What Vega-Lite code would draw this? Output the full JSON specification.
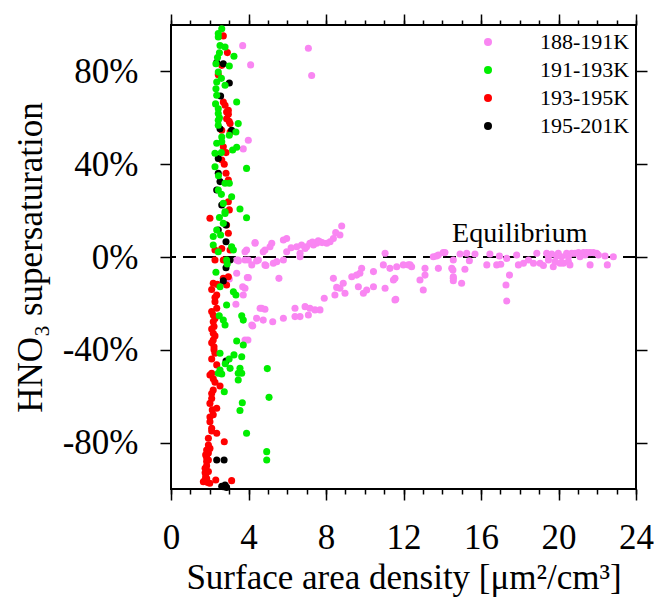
{
"$schema": "https://vega.github.io/schema/vega-lite/v6.json",
"width": 465, "height": 464,
"autosize": {"type": "none"},
"padding": {"left": 171, "top": 25, "right": 18, "bottom": 112},
"background": "white",
"config": {
 "view": {"stroke": "black", "strokeWidth": 2},
 "font": "Liberation Serif",
 "axis": {"grid": false, "domain": false, "tickColor": "black", "tickWidth": 1.5, "labelColor": "black", "titleColor": "black", "labelFont": "Liberation Serif", "titleFont": "Liberation Serif", "titleFontWeight": "normal", "labelFontSize": 35, "titleFontSize": 35, "labelFlush": false, "labelOverlap": false}
},
"datasets": {
 "pts": [
{"sad":3.7,"sup":91.1,"T":"188-191K"},{"sad":7.09,"sup":90.0,"T":"188-191K"},{"sad":7.26,"sup":78.2,"T":"188-191K"},{"sad":4.11,"sup":82.8,"T":"188-191K"},{"sad":3.99,"sup":50.3,"T":"188-191K"},{"sad":3.73,"sup":46.6,"T":"188-191K"},{"sad":4.34,"sup":6.2,"T":"188-191K"},{"sad":3.9,"sup":3.0,"T":"188-191K"},
{"sad":8.81,"sup":13.4,"T":"188-191K"},{"sad":8.72,"sup":9.5,"T":"188-191K"},{"sad":8.38,"sup":8.0,"T":"188-191K"},{"sad":8.21,"sup":6.6,"T":"188-191K"},{"sad":8.04,"sup":5.9,"T":"188-191K"},{"sad":7.69,"sup":6.6,"T":"188-191K"},{"sad":7.52,"sup":5.9,"T":"188-191K"},{"sad":7.35,"sup":5.2,"T":"188-191K"},{"sad":7.17,"sup":5.9,"T":"188-191K"},{"sad":7.0,"sup":4.4,"T":"188-191K"},{"sad":6.92,"sup":3.7,"T":"188-191K"},{"sad":6.74,"sup":5.2,"T":"188-191K"},{"sad":6.49,"sup":4.4,"T":"188-191K"},{"sad":6.66,"sup":1.6,"T":"188-191K"},{"sad":5.97,"sup":8.0,"T":"188-191K"},{"sad":5.8,"sup":7.3,"T":"188-191K"},{"sad":5.2,"sup":5.9,"T":"188-191K"},{"sad":5.11,"sup":4.4,"T":"188-191K"},{"sad":4.85,"sup":3.0,"T":"188-191K"},{"sad":4.76,"sup":2.3,"T":"188-191K"},{"sad":4.34,"sup":5.9,"T":"188-191K"},{"sad":3.82,"sup":2.3,"T":"188-191K"},{"sad":5.97,"sup":2.3,"T":"188-191K"},{"sad":7.8,"sup":6.2,"T":"188-191K"},{"sad":7.6,"sup":7.0,"T":"188-191K"},{"sad":8.5,"sup":10.5,"T":"188-191K"},{"sad":7.3,"sup":6.5,"T":"188-191K"},{"sad":6.2,"sup":4.0,"T":"188-191K"},
{"sad":3.39,"sup":-1.3,"T":"188-191K"},{"sad":3.82,"sup":-1.3,"T":"188-191K"},{"sad":4.17,"sup":-3.4,"T":"188-191K"},{"sad":4.51,"sup":-1.3,"T":"188-191K"},{"sad":4.85,"sup":-3.4,"T":"188-191K"},{"sad":5.28,"sup":-2.7,"T":"188-191K"},{"sad":5.46,"sup":-2.0,"T":"188-191K"},{"sad":5.8,"sup":-1.3,"T":"188-191K"},{"sad":6.66,"sup":0.1,"T":"188-191K"},{"sad":3.48,"sup":-1.7,"T":"188-191K"},{"sad":3.99,"sup":-1.3,"T":"188-191K"},{"sad":4.42,"sup":-1.7,"T":"188-191K"},{"sad":3.01,"sup":-9.5,"T":"188-191K"},{"sad":3.39,"sup":-7.0,"T":"188-191K"},{"sad":3.82,"sup":-13.5,"T":"188-191K"},{"sad":3.99,"sup":-8.9,"T":"188-191K"},{"sad":3.35,"sup":-20.4,"T":"188-191K"},{"sad":4.17,"sup":-29.3,"T":"188-191K"},{"sad":4.6,"sup":-22.1,"T":"188-191K"},
{"sad":11.05,"sup":1.6,"T":"188-191K"},{"sad":10.96,"sup":-3.4,"T":"188-191K"},{"sad":11.3,"sup":-4.9,"T":"188-191K"},{"sad":11.65,"sup":-4.2,"T":"188-191K"},{"sad":11.99,"sup":-3.4,"T":"188-191K"},{"sad":12.34,"sup":-3.4,"T":"188-191K"},{"sad":12.42,"sup":-4.2,"T":"188-191K"},{"sad":13.11,"sup":-4.9,"T":"188-191K"},{"sad":13.11,"sup":-7.8,"T":"188-191K"},{"sad":9.84,"sup":-4.9,"T":"188-191K"},{"sad":10.45,"sup":-6.3,"T":"188-191K"},{"sad":9.75,"sup":-7.0,"T":"188-191K"},{"sad":9.58,"sup":-7.8,"T":"188-191K"},{"sad":9.33,"sup":-8.5,"T":"188-191K"},{"sad":8.38,"sup":-9.2,"T":"188-191K"},{"sad":8.89,"sup":-11.3,"T":"188-191K"},{"sad":8.72,"sup":-13.5,"T":"188-191K"},{"sad":8.55,"sup":-13.1,"T":"188-191K"},{"sad":8.98,"sup":-15.6,"T":"188-191K"},{"sad":8.46,"sup":-16.4,"T":"188-191K"},{"sad":9.67,"sup":-12.8,"T":"188-191K"},{"sad":10.1,"sup":-14.2,"T":"188-191K"},{"sad":9.93,"sup":-15.6,"T":"188-191K"},{"sad":10.45,"sup":-12.8,"T":"188-191K"},{"sad":11.05,"sup":-13.5,"T":"188-191K"},{"sad":11.56,"sup":-9.2,"T":"188-191K"},{"sad":11.48,"sup":-9.9,"T":"188-191K"},{"sad":11.56,"sup":-18.5,"T":"188-191K"},{"sad":12.85,"sup":-9.9,"T":"188-191K"},{"sad":13.02,"sup":-14.2,"T":"188-191K"},{"sad":7.91,"sup":-17.8,"T":"188-191K"},{"sad":7.69,"sup":-22.8,"T":"188-191K"},{"sad":7.43,"sup":-22.8,"T":"188-191K"},{"sad":7.17,"sup":-22.1,"T":"188-191K"},{"sad":6.92,"sup":-21.4,"T":"188-191K"},{"sad":7.09,"sup":-25.0,"T":"188-191K"},{"sad":6.66,"sup":-25.7,"T":"188-191K"},{"sad":6.4,"sup":-25.7,"T":"188-191K"},{"sad":6.4,"sup":-22.1,"T":"188-191K"},{"sad":5.8,"sup":-26.4,"T":"188-191K"},{"sad":5.25,"sup":-27.9,"T":"188-191K"},{"sad":4.76,"sup":-27.2,"T":"188-191K"},{"sad":4.85,"sup":-22.5,"T":"188-191K"},{"sad":4.68,"sup":-22.1,"T":"188-191K"},{"sad":4.42,"sup":-26.4,"T":"188-191K"},{"sad":4.22,"sup":-29.7,"T":"188-191K"},{"sad":5.57,"sup":-9.2,"T":"188-191K"},{"sad":4.9,"sup":-3.7,"T":"188-191K"},{"sad":3.94,"sup":-8.8,"T":"188-191K"},{"sad":3.7,"sup":-12.8,"T":"188-191K"},{"sad":3.73,"sup":-16.4,"T":"188-191K"},{"sad":3.46,"sup":-1.3,"T":"188-191K"},{"sad":3.97,"sup":-35.8,"T":"188-191K"},{"sad":3.82,"sup":-35.8,"T":"188-191K"},{"sad":12.25,"sup":-3.4,"T":"188-191K"},{"sad":11.6,"sup":-18.2,"T":"188-191K"},{"sad":13.8,"sup":0.9,"T":"188-191K"},{"sad":14.14,"sup":1.9,"T":"188-191K"},{"sad":13.8,"sup":-4.9,"T":"188-191K"},
{"sad":14.05,"sup":1.9,"T":"188-191K"},{"sad":13.71,"sup":0.4,"T":"188-191K"},{"sad":13.54,"sup":0.1,"T":"188-191K"},{"sad":14.57,"sup":-1.3,"T":"188-191K"},{"sad":14.49,"sup":-4.9,"T":"188-191K"},{"sad":14.57,"sup":-9.2,"T":"188-191K"},{"sad":14.57,"sup":-10.2,"T":"188-191K"},{"sad":15.0,"sup":-11.3,"T":"188-191K"},{"sad":15.17,"sup":-5.3,"T":"188-191K"},{"sad":15.4,"sup":-1.6,"T":"188-191K"},{"sad":14.92,"sup":1.3,"T":"188-191K"},{"sad":15.26,"sup":1.6,"T":"188-191K"},{"sad":15.69,"sup":1.3,"T":"188-191K"},{"sad":16.3,"sup":-3.4,"T":"188-191K"},{"sad":16.46,"sup":1.3,"T":"188-191K"},{"sad":16.95,"sup":0.4,"T":"188-191K"},{"sad":16.81,"sup":-3.4,"T":"188-191K"},{"sad":17.02,"sup":-3.1,"T":"188-191K"},{"sad":17.33,"sup":-0.6,"T":"188-191K"},{"sad":17.47,"sup":-7.8,"T":"188-191K"},{"sad":17.29,"sup":-12.1,"T":"188-191K"},{"sad":17.33,"sup":-19.0,"T":"188-191K"},{"sad":17.84,"sup":0.9,"T":"188-191K"},{"sad":17.93,"sup":-3.4,"T":"188-191K"},{"sad":18.19,"sup":-2.7,"T":"188-191K"},{"sad":18.45,"sup":-1.3,"T":"188-191K"},{"sad":18.71,"sup":-2.7,"T":"188-191K"},{"sad":18.88,"sup":1.6,"T":"188-191K"},{"sad":19.05,"sup":-2.7,"T":"188-191K"},{"sad":19.22,"sup":-3.7,"T":"188-191K"},{"sad":19.39,"sup":1.6,"T":"188-191K"},{"sad":19.48,"sup":-1.3,"T":"188-191K"},{"sad":19.65,"sup":1.3,"T":"188-191K"},{"sad":19.73,"sup":-4.2,"T":"188-191K"},{"sad":19.82,"sup":-2.0,"T":"188-191K"},{"sad":19.99,"sup":1.6,"T":"188-191K"},{"sad":20.16,"sup":0.1,"T":"188-191K"},{"sad":20.25,"sup":-2.7,"T":"188-191K"},{"sad":20.42,"sup":1.6,"T":"188-191K"},{"sad":20.51,"sup":-2.0,"T":"188-191K"},{"sad":20.59,"sup":-3.4,"T":"188-191K"},{"sad":20.68,"sup":1.6,"T":"188-191K"},{"sad":20.85,"sup":1.6,"T":"188-191K"},{"sad":21.03,"sup":1.9,"T":"188-191K"},{"sad":21.29,"sup":1.9,"T":"188-191K"},{"sad":21.46,"sup":1.9,"T":"188-191K"},{"sad":21.63,"sup":1.9,"T":"188-191K"},{"sad":21.8,"sup":1.9,"T":"188-191K"},{"sad":21.97,"sup":1.6,"T":"188-191K"},{"sad":22.06,"sup":0.9,"T":"188-191K"},{"sad":21.63,"sup":-3.4,"T":"188-191K"},{"sad":22.4,"sup":0.4,"T":"188-191K"},{"sad":22.52,"sup":-3.4,"T":"188-191K"},{"sad":22.83,"sup":0.1,"T":"188-191K"},{"sad":19.48,"sup":0.4,"T":"188-191K"},{"sad":19.91,"sup":0.4,"T":"188-191K"},{"sad":20.51,"sup":0.1,"T":"188-191K"},{"sad":20.08,"sup":-2.7,"T":"188-191K"},{"sad":21.11,"sup":0.1,"T":"188-191K"},{"sad":21.37,"sup":0.9,"T":"188-191K"},{"sad":14.55,"sup":-5.6,"T":"188-191K"},{"sad":14.57,"sup":-8.5,"T":"188-191K"},
{"sad":2.7,"sup":95.3,"T":"193-195K"},{"sad":2.91,"sup":88.1,"T":"193-195K"},{"sad":2.62,"sup":82.6,"T":"193-195K"},{"sad":2.44,"sup":78.6,"T":"193-195K"},{"sad":2.7,"sup":66.8,"T":"193-195K"},{"sad":2.96,"sup":63.2,"T":"193-195K"},{"sad":2.87,"sup":59.6,"T":"193-195K"},{"sad":3.05,"sup":57.5,"T":"193-195K"},{"sad":3.05,"sup":53.9,"T":"193-195K"},{"sad":2.62,"sup":54.6,"T":"193-195K"},{"sad":2.79,"sup":65.4,"T":"193-195K"},{"sad":2.96,"sup":61.5,"T":"193-195K"},{"sad":2.87,"sup":62.5,"T":"193-195K"},{"sad":3.0,"sup":58.5,"T":"193-195K"},
{"sad":2.7,"sup":47.5,"T":"193-195K"},{"sad":2.62,"sup":41.8,"T":"193-195K"},{"sad":2.84,"sup":36.1,"T":"193-195K"},{"sad":2.96,"sup":33.2,"T":"193-195K"},{"sad":2.96,"sup":23.8,"T":"193-195K"},{"sad":3.01,"sup":20.3,"T":"193-195K"},{"sad":2.01,"sup":16.7,"T":"193-195K"},{"sad":2.87,"sup":13.8,"T":"193-195K"},{"sad":2.96,"sup":10.2,"T":"193-195K"},{"sad":2.62,"sup":3.7,"T":"193-195K"},{"sad":2.27,"sup":3.0,"T":"193-195K"},{"sad":3.05,"sup":3.0,"T":"193-195K"},{"sad":2.84,"sup":45.0,"T":"193-195K"},{"sad":2.75,"sup":40.0,"T":"193-195K"},
{"sad":2.27,"sup":-1.3,"T":"193-195K"},{"sad":2.7,"sup":-1.3,"T":"193-195K"},{"sad":2.18,"sup":-11.3,"T":"193-195K"},{"sad":2.39,"sup":-11.8,"T":"193-195K"},{"sad":2.7,"sup":-9.2,"T":"193-195K"},{"sad":2.27,"sup":-19.3,"T":"193-195K"},{"sad":2.36,"sup":-22.1,"T":"193-195K"},{"sad":2.18,"sup":-25.0,"T":"193-195K"},{"sad":2.18,"sup":-27.9,"T":"193-195K"},{"sad":2.22,"sup":-30.0,"T":"193-195K"},{"sad":2.18,"sup":-32.9,"T":"193-195K"},{"sad":2.18,"sup":-35.8,"T":"193-195K"},{"sad":2.22,"sup":-38.7,"T":"193-195K"},{"sad":2.27,"sup":-41.5,"T":"193-195K"},{"sad":2.1,"sup":-50.1,"T":"193-195K"},{"sad":2.36,"sup":-16.4,"T":"193-195K"},{"sad":2.96,"sup":-8.5,"T":"193-195K"},{"sad":2.87,"sup":-12.1,"T":"193-195K"},
{"sad":2.1,"sup":-14,"T":"193-195K"},{"sad":2.27,"sup":-17.5,"T":"193-195K"},{"sad":2.1,"sup":-23.5,"T":"193-195K"},{"sad":2.27,"sup":-26.5,"T":"193-195K"},{"sad":2.1,"sup":-31,"T":"193-195K"},{"sad":2.27,"sup":-34,"T":"193-195K"},{"sad":2.1,"sup":-37,"T":"193-195K"},{"sad":2.22,"sup":-40,"T":"193-195K"},{"sad":2.1,"sup":-44,"T":"193-195K"},{"sad":2.36,"sup":-46.5,"T":"193-195K"},{"sad":2.18,"sup":-52.5,"T":"193-195K"},{"sad":2.27,"sup":-54,"T":"193-195K"},{"sad":2.1,"sup":-61,"T":"193-195K"},{"sad":2.18,"sup":-68,"T":"193-195K"},{"sad":2.01,"sup":-69,"T":"193-195K"},{"sad":2.1,"sup":-75,"T":"193-195K"},{"sad":2.01,"sup":-82.5,"T":"193-195K"},{"sad":1.93,"sup":-84.5,"T":"193-195K"},{"sad":1.84,"sup":-86.5,"T":"193-195K"},{"sad":1.84,"sup":-90,"T":"193-195K"},{"sad":1.76,"sup":-93,"T":"193-195K"},{"sad":1.84,"sup":-95.5,"T":"193-195K"},{"sad":1.76,"sup":-96,"T":"193-195K"},{"sad":1.9,"sup":-97.2,"T":"193-195K"},{"sad":2.0,"sup":-97.5,"T":"193-195K"},
{"sad":2.01,"sup":-50.9,"T":"193-195K"},{"sad":2.53,"sup":-55.6,"T":"193-195K"},{"sad":2.18,"sup":-57.3,"T":"193-195K"},{"sad":2.1,"sup":-58.8,"T":"193-195K"},{"sad":2.01,"sup":-63.1,"T":"193-195K"},{"sad":2.13,"sup":-65.9,"T":"193-195K"},{"sad":2.36,"sup":-65.2,"T":"193-195K"},{"sad":2.01,"sup":-71.0,"T":"193-195K"},{"sad":2.1,"sup":-73.8,"T":"193-195K"},{"sad":2.36,"sup":-76.0,"T":"193-195K"},{"sad":1.93,"sup":-78.1,"T":"193-195K"},{"sad":2.75,"sup":-79.6,"T":"193-195K"},{"sad":1.93,"sup":-81.0,"T":"193-195K"},{"sad":1.84,"sup":-83.2,"T":"193-195K"},{"sad":1.79,"sup":-85.3,"T":"193-195K"},{"sad":1.84,"sup":-88.2,"T":"193-195K"},{"sad":1.76,"sup":-91.1,"T":"193-195K"},{"sad":1.93,"sup":-92.5,"T":"193-195K"},{"sad":1.67,"sup":-96.9,"T":"193-195K"},{"sad":1.79,"sup":-94.7,"T":"193-195K"},{"sad":2.31,"sup":-96.1,"T":"193-195K"},{"sad":3.13,"sup":-96.4,"T":"193-195K"},{"sad":1.93,"sup":-87.5,"T":"193-195K"},
{"sad":2.36,"sup":83.8,"T":"195-201K"},{"sad":2.7,"sup":83.3,"T":"195-201K"},{"sad":3.01,"sup":75.0,"T":"195-201K"},{"sad":2.56,"sup":69.4,"T":"195-201K"},{"sad":2.53,"sup":55.3,"T":"195-201K"},{"sad":3.13,"sup":54.6,"T":"195-201K"},{"sad":2.44,"sup":42.5,"T":"195-201K"},{"sad":2.44,"sup":36.1,"T":"195-201K"},{"sad":2.53,"sup":32.5,"T":"195-201K"},{"sad":2.36,"sup":28.9,"T":"195-201K"},{"sad":2.62,"sup":22.4,"T":"195-201K"},{"sad":2.84,"sup":13.8,"T":"195-201K"},{"sad":2.44,"sup":11.6,"T":"195-201K"},{"sad":2.84,"sup":6.6,"T":"195-201K"},{"sad":3.05,"sup":-1.3,"T":"195-201K"},{"sad":2.84,"sup":-4.6,"T":"195-201K"},{"sad":2.7,"sup":-10.3,"T":"195-201K"},{"sad":2.84,"sup":-44.8,"T":"195-201K"},{"sad":2.36,"sup":-87.5,"T":"195-201K"},{"sad":2.74,"sup":-87.5,"T":"195-201K"},{"sad":2.7,"sup":-99.0,"T":"195-201K"},{"sad":2.87,"sup":-99.3,"T":"195-201K"},{"sad":2.79,"sup":-98.3,"T":"195-201K"},{"sad":2.62,"sup":-98.8,"T":"195-201K"},
{"sad":2.62,"sup":98.4,"T":"191-193K"},{"sad":2.44,"sup":96.3,"T":"191-193K"},{"sad":2.44,"sup":94.8,"T":"191-193K"},{"sad":2.53,"sup":91.2,"T":"191-193K"},{"sad":2.79,"sup":90.5,"T":"191-193K"},{"sad":3.25,"sup":86.5,"T":"191-193K"},{"sad":3.01,"sup":82.3,"T":"191-193K"},{"sad":2.32,"sup":83.3,"T":"191-193K"},{"sad":2.44,"sup":79.7,"T":"191-193K"},{"sad":2.36,"sup":75.4,"T":"191-193K"},{"sad":2.79,"sup":74.0,"T":"191-193K"},{"sad":2.32,"sup":72.5,"T":"191-193K"},{"sad":2.36,"sup":69.7,"T":"191-193K"},{"sad":3.39,"sup":66.8,"T":"191-193K"},{"sad":2.44,"sup":63.9,"T":"191-193K"},{"sad":2.44,"sup":61.8,"T":"191-193K"},{"sad":2.44,"sup":58.9,"T":"191-193K"},{"sad":3.47,"sup":57.5,"T":"191-193K"},{"sad":3.35,"sup":53.9,"T":"191-193K"},{"sad":2.44,"sup":56.8,"T":"191-193K"},{"sad":3.01,"sup":52.5,"T":"191-193K"},{"sad":2.62,"sup":51.7,"T":"191-193K"},
{"sad":2.36,"sup":49.0,"T":"191-193K"},{"sad":2.62,"sup":49.7,"T":"191-193K"},{"sad":3.18,"sup":46.1,"T":"191-193K"},{"sad":3.39,"sup":47.3,"T":"191-193K"},{"sad":2.27,"sup":44.7,"T":"191-193K"},{"sad":2.27,"sup":38.9,"T":"191-193K"},{"sad":3.9,"sup":38.2,"T":"191-193K"},{"sad":3.01,"sup":31.8,"T":"191-193K"},{"sad":2.79,"sup":31.8,"T":"191-193K"},{"sad":2.44,"sup":28.9,"T":"191-193K"},{"sad":3.13,"sup":26.0,"T":"191-193K"},{"sad":2.7,"sup":23.1,"T":"191-193K"},{"sad":3.56,"sup":20.7,"T":"191-193K"},{"sad":2.79,"sup":19.5,"T":"191-193K"},{"sad":3.9,"sup":16.9,"T":"191-193K"},{"sad":2.79,"sup":18.8,"T":"191-193K"},{"sad":2.7,"sup":14.5,"T":"191-193K"},{"sad":2.36,"sup":11.6,"T":"191-193K"},{"sad":2.56,"sup":9.5,"T":"191-193K"},{"sad":3.13,"sup":4.4,"T":"191-193K"},{"sad":2.18,"sup":8.8,"T":"191-193K"},{"sad":2.18,"sup":5.2,"T":"191-193K"},{"sad":2.44,"sup":2.3,"T":"191-193K"},{"sad":3.22,"sup":3.0,"T":"191-193K"},
{"sad":2.87,"sup":-1.3,"T":"191-193K"},{"sad":2.32,"sup":-6.6,"T":"191-193K"},{"sad":2.53,"sup":-12.8,"T":"191-193K"},{"sad":2.87,"sup":-20.7,"T":"191-193K"},{"sad":3.65,"sup":-25.3,"T":"191-193K"},{"sad":2.49,"sup":-25.3,"T":"191-193K"},{"sad":2.7,"sup":-27.2,"T":"191-193K"},{"sad":2.79,"sup":-29.3,"T":"191-193K"},{"sad":3.39,"sup":-36.2,"T":"191-193K"},{"sad":3.73,"sup":-37.9,"T":"191-193K"},{"sad":3.25,"sup":-42.2,"T":"191-193K"},{"sad":3.65,"sup":-43.0,"T":"191-193K"},{"sad":2.53,"sup":-41.5,"T":"191-193K"},{"sad":3.05,"sup":-48.0,"T":"191-193K"},{"sad":2.53,"sup":-48.7,"T":"191-193K"},{"sad":3.56,"sup":-48.0,"T":"191-193K"},{"sad":3.47,"sup":-50.1,"T":"191-193K"},{"sad":3.22,"sup":-15.0,"T":"191-193K"},{"sad":3.35,"sup":-16.4,"T":"191-193K"},{"sad":3.73,"sup":-27.2,"T":"191-193K"},
{"sad":2.44,"sup":-50.1,"T":"191-193K"},{"sad":2.62,"sup":-50.4,"T":"191-193K"},{"sad":3.47,"sup":-53.0,"T":"191-193K"},{"sad":3.65,"sup":-50.1,"T":"191-193K"},{"sad":2.75,"sup":-58.1,"T":"191-193K"},{"sad":3.68,"sup":-62.8,"T":"191-193K"},{"sad":3.56,"sup":-66.2,"T":"191-193K"},{"sad":3.9,"sup":-76.0,"T":"191-193K"},{"sad":5.06,"sup":-60.5,"T":"191-193K"},{"sad":4.94,"sup":-83.9,"T":"191-193K"},{"sad":4.94,"sup":-87.5,"T":"191-193K"},{"sad":4.97,"sup":-48.1,"T":"191-193K"},
{"sad":2.5,"sup":88,"T":"191-193K"},{"sad":2.4,"sup":86,"T":"191-193K"},{"sad":2.6,"sup":77,"T":"191-193K"},{"sad":2.3,"sup":66,"T":"191-193K"},{"sad":2.5,"sup":60,"T":"191-193K"},{"sad":2.6,"sup":45,"T":"191-193K"},{"sad":2.45,"sup":35,"T":"191-193K"},{"sad":2.6,"sup":27,"T":"191-193K"},{"sad":2.5,"sup":17,"T":"191-193K"},{"sad":2.9,"sup":-3,"T":"191-193K"},{"sad":3.0,"sup":-44,"T":"191-193K"},{"sad":2.8,"sup":-46,"T":"191-193K"}
 ],
 "notes": [{"label": "Equilibrium", "sad": 18.0, "sup": 6.6}],
 "zero": [{"sup": 0}]
},
"resolve": {"axis": {"x": "independent", "y": "independent"}},
"layer": [
 {
  "data": {"name": "pts"},
  "mark": {"type": "circle", "opacity": 0},
  "encoding": {
   "x": {"field": "sad", "type": "quantitative", "scale": {"domain": [0, 24], "nice": false}, "axis": {"orient": "bottom", "values": [0,1,2,3,4,5,6,7,8,9,10,11,12,13,14,15,16,17,18,19,20,21,22,23,24], "tickSize": 5, "labels": false, "title": null}},
   "y": {"field": "sup", "type": "quantitative", "scale": {"domain": [-100, 100], "nice": false}, "axis": {"orient": "right", "values": [-80,-40,0,40,80], "tickSize": 11, "labels": false, "title": null}}
  }
 },
 {
  "data": {"name": "pts"},
  "mark": {"type": "circle", "opacity": 0},
  "encoding": {
   "x": {"field": "sad", "type": "quantitative", "axis": {"orient": "top", "values": [0,4,8,12,16,20,24], "tickSize": 11, "labels": false, "title": null}},
   "y": {"field": "sup", "type": "quantitative", "axis": null}
  }
 },
 {
  "data": {"name": "pts"},
  "mark": {"type": "circle", "opacity": 0},
  "encoding": {
   "x": {"field": "sad", "type": "quantitative", "axis": {"orient": "top", "values": [0,1,2,3,4,5,6,7,8,9,10,11,12,13,14,15,16,17,18,19,20,21,22,23,24], "tickSize": 5, "labels": false, "title": null}},
   "y": {"field": "sup", "type": "quantitative", "axis": null}
  }
 },
 {
  "data": {"name": "zero"},
  "mark": {"type": "rule", "color": "black", "strokeWidth": 2, "strokeDash": [13, 7]},
  "encoding": {"y": {"field": "sup", "type": "quantitative", "axis": null}}
 },
 {
  "data": {"name": "pts"},
  "mark": {"type": "circle", "size": 50, "opacity": 1},
  "encoding": {
   "x": {"field": "sad", "type": "quantitative", "axis": {"orient": "bottom", "values": [0,4,8,12,16,20,24], "tickSize": 11, "labelPadding": 20, "title": "Surface area density [μm²/cm³]", "titlePadding": 5}},
   "y": {"field": "sup", "type": "quantitative", "axis": {"orient": "left", "values": [-80,-40,0,40,80], "tickSize": 11, "labelPadding": 22, "labelExpr": "datum.value + '%'", "title": "HNO₃ supersaturation", "titlePadding": 14}},
   "color": {"field": "T", "type": "nominal",
    "scale": {"domain": ["188-191K", "191-193K", "193-195K", "195-201K"], "range": ["#f986f2", "#00ee00", "#ff0000", "#000000"]},
    "legend": {"orient": "none", "legendX": 306, "legendY": 6, "title": null, "symbolType": "circle", "symbolSize": 64, "labelFontSize": 22, "labelFont": "Liberation Serif", "labelColor": "black", "labelOffset": 41, "rowPadding": 6, "padding": 0, "symbolStrokeWidth": 0}}
  }
 },
 {
  "data": {"name": "notes"},
  "mark": {"type": "text", "fontSize": 28, "font": "Liberation Serif", "align": "center", "baseline": "alphabetic", "color": "black"},
  "encoding": {
   "x": {"field": "sad", "type": "quantitative", "axis": null},
   "y": {"field": "sup", "type": "quantitative", "axis": null},
   "text": {"field": "label"}
  }
 }
]
}
